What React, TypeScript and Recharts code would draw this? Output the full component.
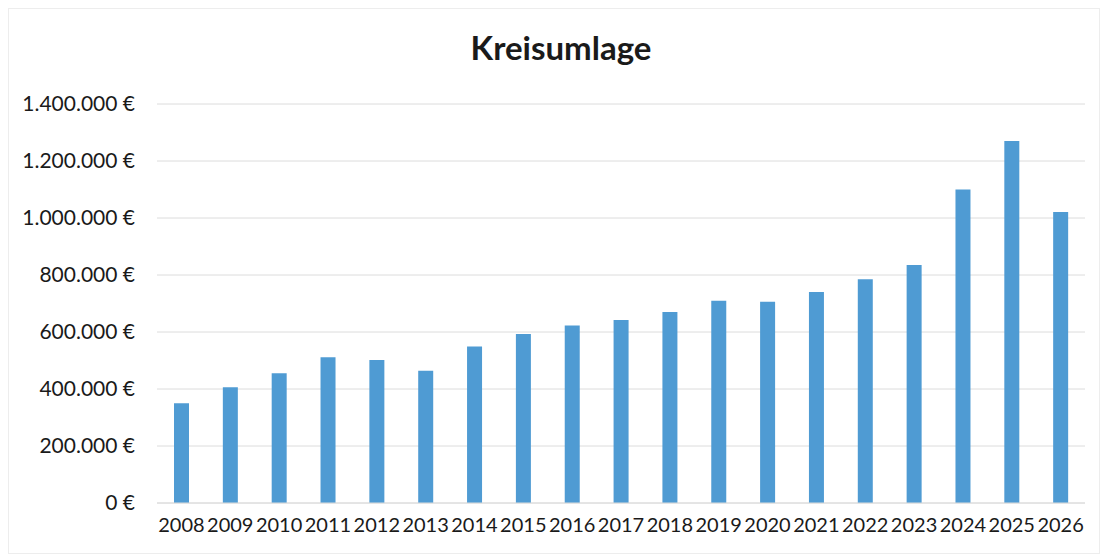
import React from 'react';
import { BarChart, Bar, XAxis, YAxis, CartesianGrid } from 'recharts';

const YEARS = [
  '2008', '2009', '2010', '2011', '2012', '2013', '2014', '2015', '2016', '2017',
  '2018', '2019', '2020', '2021', '2022', '2023', '2024', '2025', '2026',
];
const KREISUMLAGE = [
  350000, 406000, 455000, 511000, 502000, 464000, 549000, 593000, 623000, 642000,
  670000, 710000, 706000, 740000, 785000, 835000, 1100000, 1270000, 1021000,
];
const Y_TICKS = [0, 200000, 400000, 600000, 800000, 1000000, 1200000, 1400000];

const data = YEARS.map((year, i) => ({ year, value: KREISUMLAGE[i] }));

// 1400000 -> "1.400.000 €"
const euro = (v: number) => String(v).replace(/\B(?=(\d{3})+(?!\d))/g, '.') + ' €';

const font = 'Lato, "Open Sans", sans-serif';

const App: React.FC = () => {
  return (
    <div style={{ position: 'absolute', left: 0, top: 0, width: 1102, height: 558, background: '#fff' }}>
      {/* faint frame of the scanned chart */}
      <div
        style={{
          position: 'absolute', left: 8, top: 8, width: 1092, height: 546,
          border: '1px solid #ededed', boxSizing: 'border-box',
        }}
      />
      <div
        style={{
          position: 'absolute', left: 0, top: 31, width: 1122, textAlign: 'center',
          fontFamily: font, fontWeight: 700, fontSize: 33, lineHeight: '33px', color: '#1a1a1a',
        }}
      >
        Kreisumlage
      </div>
      <BarChart
        width={1102}
        height={558}
        data={data}
        margin={{ top: 104, right: 17, bottom: 0, left: 0 }}
        barCategoryGap={0}
      >
        <CartesianGrid vertical={false} stroke="#dcdcdc" />
        <XAxis
          dataKey="year"
          axisLine={{ stroke: '#dcdcdc' }}
          tickLine={false}
          tickSize={0}
          tickMargin={15}
          height={55}
          interval={0}
          tick={{ fill: '#1a1a1a', fontSize: 20, fontFamily: font }}
        />
        <YAxis
          domain={[0, 1400000]}
          ticks={Y_TICKS}
          tickFormatter={euro}
          axisLine={false}
          tickLine={false}
          tickSize={0}
          tickMargin={22}
          width={157}
          tick={{ fill: '#1a1a1a', fontSize: 21, fontFamily: font }}
        />
        <Bar dataKey="value" fill="#4f9bd3" barSize={15} isAnimationActive={false} />
      </BarChart>
    </div>
  );
};

export default App;
